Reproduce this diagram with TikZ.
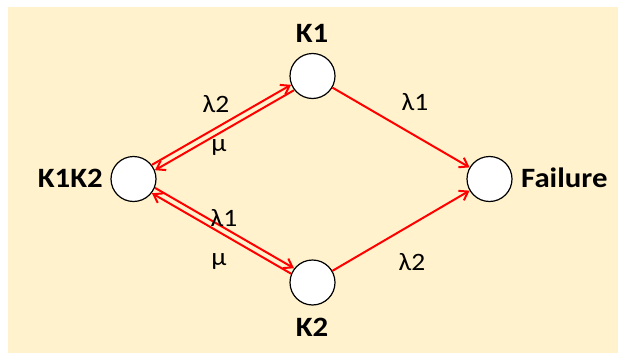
\documentclass[tikz,border=0pt]{standalone}
\usepackage{fontspec}
\setmainfont{Carlito}
\newfontfamily\labfont[FakeStretch=1.1]{Carlito}
\usetikzlibrary{arrows.meta}
\definecolor{bgc}{HTML}{FFF2CC}
\definecolor{redc}{HTML}{FF0000}
\tikzset{
  x=1pt, y=1pt,
  state/.style={circle, draw=black, line width=1.2pt, fill=white, minimum size=45pt, inner sep=0pt},
  stlabel/.style={font=\labfont\bfseries\fontsize{28}{30}\selectfont, inner sep=0pt},
  rate/.style={font=\labfont\fontsize{25}{28}\selectfont, inner sep=0pt},
  arr/.style={draw=redc, line width=2pt, -{Straight Barb[length=8pt,width=11pt,line width=2pt]}}
}
\begin{document}
\begin{tikzpicture}
\useasboundingbox (0,0) rectangle (618,-353);
\fill[white] (0,0) rectangle (618,-353);
\fill[bgc] (8,-7) rectangle (618,-353);

\node[state] (k12) at (133.5,-179) {};
\node[state] (k1) at (312.5,-76) {};
\node[state] (k2) at (312.5,-282.5) {};
\node[state] (fail) at (489.5,-179) {};

\node[stlabel] (lk1) at (312,-33) {K1};
\node[stlabel] (lk2) at (312,-327) {K2};
\node[stlabel, anchor=east] (lk12) at (103,-178.5) {K1K2};
\node[stlabel, anchor=west] (lfail) at (521,-178) {Failure};

\draw[arr, transform canvas={shift={(-1.5pt,2.7pt)}}] (k12) -- (k1);
\draw[arr, transform canvas={shift={(1.5pt,-2.7pt)}}] (k1) -- (k12);
\draw[arr, transform canvas={shift={(1.5pt,2.7pt)}}] (k12) -- (k2);
\draw[arr, transform canvas={shift={(-1.5pt,-2.7pt)}}] (k2) -- (k12);
\draw[arr] (k1) -- (fail);
\draw[arr] (k2) -- (fail);

\node[rate] (r1) at (216,-104) {λ2};
\node[rate] (r2) at (219,-148) {μ};
\node[rate] (r3) at (224,-218) {λ1};
\node[rate] (r4) at (219,-262) {μ};
\node[rate] (r5) at (415,-102) {λ1};
\node[rate] (r6) at (412,-262) {λ2};
\end{tikzpicture}
\end{document}
